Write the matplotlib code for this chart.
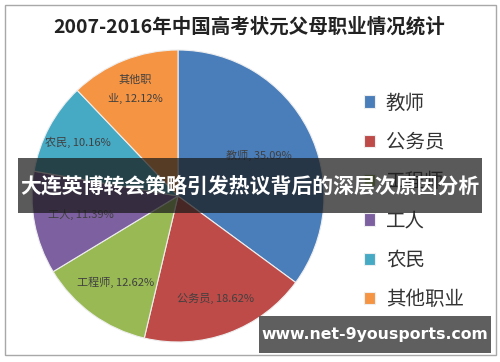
import matplotlib
matplotlib.use('Agg')
import matplotlib.pyplot as plt
from matplotlib.patches import Rectangle
import numpy as np

plt.rcParams['font.family'] = ['Noto Sans CJK SC', 'DejaVu Sans']

# data
jobs = ['教师', '公务员', '工程师', '工人', '农民', '其他职业']
shares = [35.09, 18.62, 12.62, 11.39, 10.16, 12.12]
colors = ['#4A7EBB', '#BE4B48', '#98B954', '#7D60A0', '#46AAC5', '#F59443']
title = '2007-2016年中国高考状元父母职业情况统计'
banner = '大连英博转会策略引发热议背后的深层次原因分析'
site = 'www.net-9yousports.com'

W, H = 500, 362
fig = plt.figure(figsize=(W / 100, H / 100), dpi=100)
fig.patch.set_facecolor('white')

# pie axes, centre (178,196) px, radius 146 px
cx, cy, r = 178, 196, 146
ax = fig.add_axes([(cx - r) / W, (H - cy - r) / H, 2 * r / W, 2 * r / H])
ax.set_zorder(1)
wedges, _ = ax.pie(shares, colors=colors, startangle=90, counterclock=False,
                   wedgeprops=dict(edgecolor='#eeeeee', linewidth=0.8))
ax.set_xlim(-1, 1)
ax.set_ylim(-1, 1)
ax.axis('off')

# data labels inside slices
label_r = [0.62, 0.75, 0.73, 0.68, 0.78, 0.79]
for w, name, v, lr in zip(wedges, jobs, shares, label_r):
    mid = np.deg2rad((w.theta1 + w.theta2) / 2)
    if len(name) > 3:
        name = name[:3] + '\n' + name[3:]
    ax.text(lr * np.cos(mid), lr * np.sin(mid), f'{name}, {v:.2f}%',
            ha='center', va='center', fontsize=8, color='#404040',
            linespacing=1.9)

# legend on the right
ax.legend(wedges, jobs, loc='upper left', bbox_to_anchor=(346 / W, 1 - 75 / H),
          bbox_transform=fig.transFigure, frameon=False, fontsize=14,
          handlelength=0.6, handleheight=0.6, handletextpad=0.55,
          labelspacing=0.94, labelcolor='#333333')

# overlay: frame, title, banner, watermark
ov = fig.add_axes([0, 0, 1, 1])
ov.set_zorder(2)
ov.set_xlim(0, W)
ov.set_ylim(H, 0)
ov.axis('off')
ov.patch.set_alpha(0)

ov.add_patch(Rectangle((4.5, 4.5), 491.5, 350, fill=False,
                       edgecolor='#a8a8a8', linewidth=1))
ov.text(249, 27, title, ha='center', va='center', fontsize=14,
        fontweight='bold', color='#222222')

ov.add_patch(Rectangle((18, 158), 464, 55, facecolor='#1a1a1a',
                       alpha=0.72, edgecolor='none'))
ov.text(250, 186, banner, ha='center', va='center', fontsize=15,
        fontweight='bold', color='white')

ov.add_patch(Rectangle((259, 316), 232, 37, facecolor='#5f5f5f',
                       edgecolor='none'))
ov.text(375, 335, site, ha='center', va='center', fontsize=11.3,
        fontweight='bold', color='white', family=['DejaVu Sans'])

fig.savefig('out.png', dpi=100, facecolor='white')
